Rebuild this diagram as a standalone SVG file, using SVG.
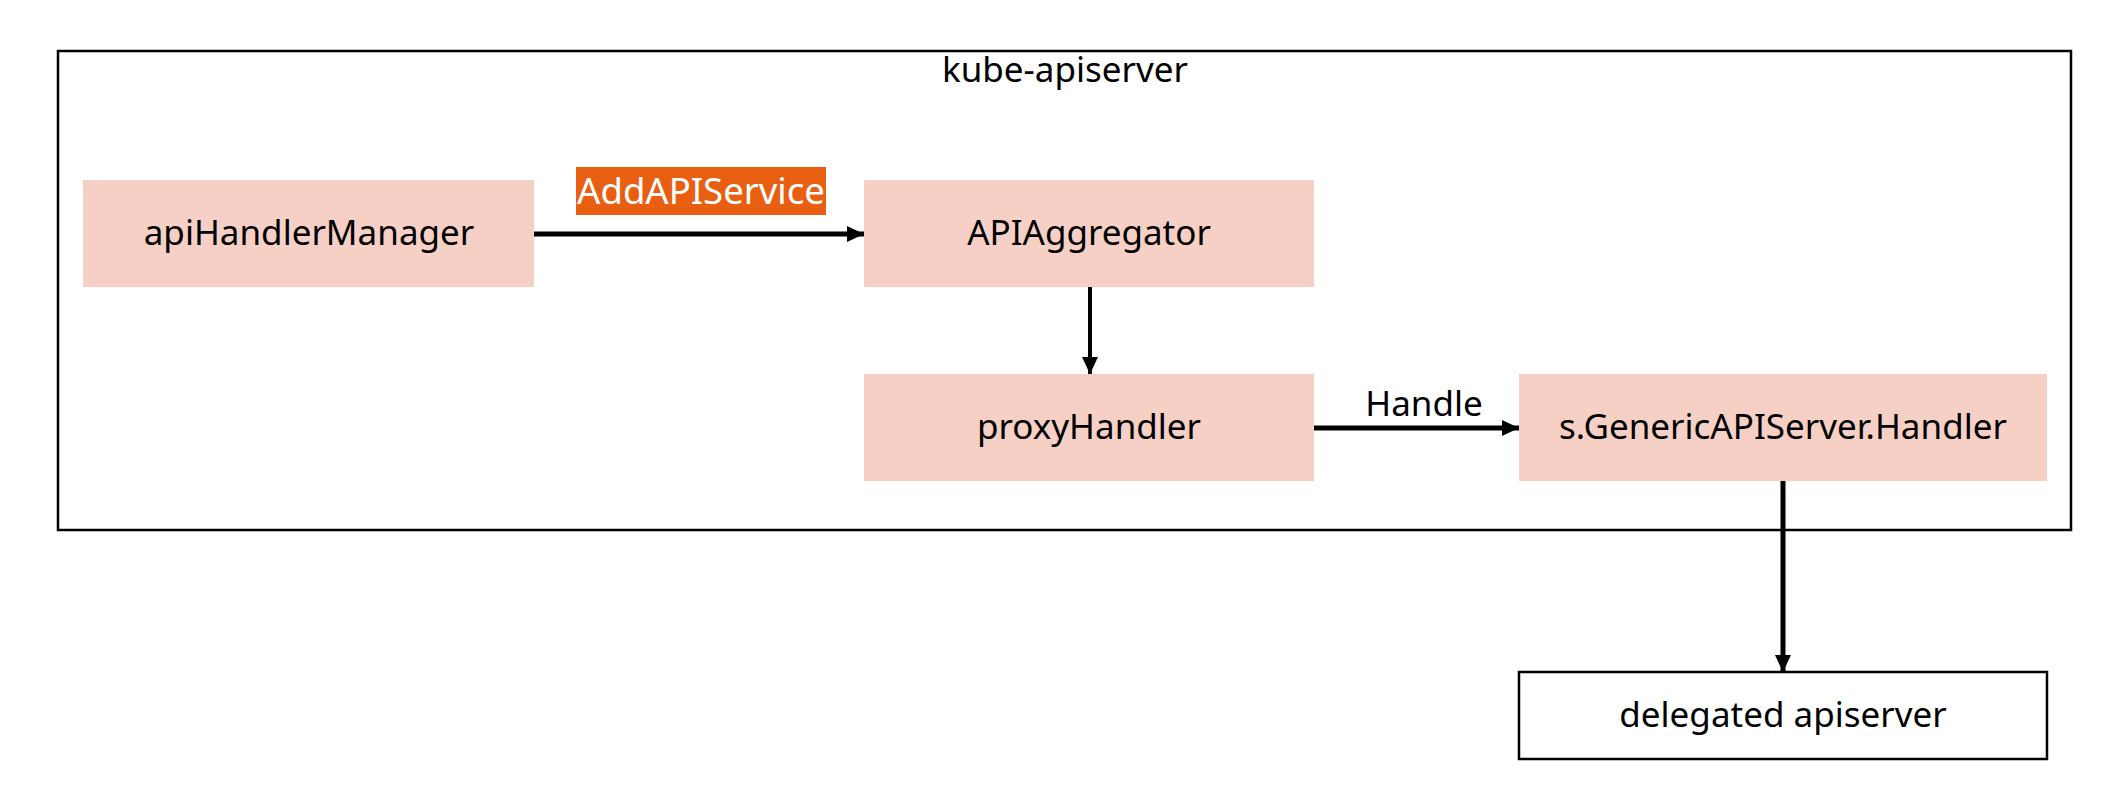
<svg xmlns="http://www.w3.org/2000/svg" width="2114" height="806" viewBox="0 0 2114 806">
  <defs>
    <style>
      .frame { fill: none; stroke: #000; stroke-width: 2.5; }
      .node { fill: #F7D0C5; }
      .plain { fill: #fff; stroke: #000; stroke-width: 2.5; }
      .lbl { font-family: "Noto Sans", "Open Sans", sans-serif; font-size: 35px; fill: #000; text-anchor: middle; }
      .tag { fill: #E95F12; }
      .tagtxt { font-family: "Noto Sans", "Open Sans", sans-serif; font-size: 36.5px; fill: #fff; text-anchor: middle; }
      .link { fill: none; stroke: #000; stroke-width: 5; marker-end: url(#head); }
    </style>
    <marker id="head" markerUnits="userSpaceOnUse" markerWidth="18" markerHeight="16" refX="17" refY="8" orient="auto">
      <path d="M0,0 L17,8 L0,16 Z" fill="#000"/>
    </marker>
  </defs>
  <rect width="2114" height="806" fill="#fff"/>

  <!-- outer container -->
  <g id="kube-apiserver">
    <rect class="frame" x="58" y="51" width="2013" height="479"/>
    <text class="lbl" x="1065" y="82">kube-apiserver</text>
  </g>

  <g id="apiHandlerManager">
    <rect class="node" x="83" y="180" width="451" height="107"/>
    <text class="lbl" x="309" y="245">apiHandlerManager</text>
  </g>

  <g id="APIAggregator">
    <rect class="node" x="864" y="180" width="450" height="107"/>
    <text class="lbl" x="1089" y="245">APIAggregator</text>
  </g>

  <g id="proxyHandler">
    <rect class="node" x="864" y="374" width="450" height="107"/>
    <text class="lbl" x="1089" y="439">proxyHandler</text>
  </g>

  <g id="genericHandler">
    <rect class="node" x="1519" y="374" width="528" height="107"/>
    <text class="lbl" x="1783" y="439">s.GenericAPIServer.Handler</text>
  </g>

  <g id="delegated">
    <rect class="plain" x="1519" y="672" width="528" height="87"/>
    <text class="lbl" x="1783" y="727">delegated apiserver</text>
  </g>

  <!-- connectors -->
  <g id="connectors">
    <path class="link" d="M534,234 H864"/>
    <path class="link" d="M1090,287 V374" style="stroke-width:4"/>
    <path class="link" d="M1314,428 H1519"/>
    <path class="link" d="M1783,481 V672"/>
    <g id="addapiservice-label">
      <rect class="tag" x="576" y="167" width="250" height="48"/>
      <text class="tagtxt" x="701" y="204">AddAPIService</text>
    </g>
    <text class="lbl" x="1424" y="416">Handle</text>
  </g>
</svg>
